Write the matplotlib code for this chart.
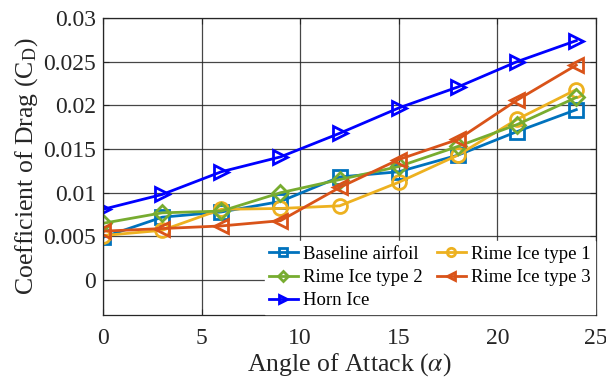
import matplotlib
matplotlib.use('Agg')
import matplotlib.pyplot as plt

plt.rcParams['font.family'] = ['Liberation Serif', 'DejaVu Serif']
plt.rcParams['mathtext.fontset'] = 'stix'

# angle of attack (deg)
aoa = [0, 3, 6, 9, 12, 15, 18, 21, 24]

# drag coefficient for each case
cd_baseline = [0.0049, 0.0072, 0.0078, 0.0090, 0.0118, 0.0124, 0.0143, 0.0170, 0.0195]
cd_rime1 = [0.0051, 0.0057, 0.0081, 0.0082, 0.0085, 0.0112, 0.0143, 0.0184, 0.0218]
cd_rime2 = [0.0065, 0.0077, 0.0079, 0.0100, 0.0115, 0.0130, 0.0153, 0.0178, 0.0209]
cd_rime3 = [0.0056, 0.0059, 0.0062, 0.0068, 0.0106, 0.0138, 0.0161, 0.0206, 0.0246]
cd_horn = [0.0081, 0.0098, 0.0124, 0.0141, 0.0168, 0.0197, 0.0221, 0.0250, 0.0274]

labels = ['Baseline airfoil', 'Rime Ice type 1', 'Rime Ice type 2',
          'Rime Ice type 3', 'Horn Ice']
xticks = [0, 5, 10, 15, 20, 25]
yticks = [0, 0.005, 0.01, 0.015, 0.02, 0.025, 0.03]
yticklabels = ['0', '0.005', '0.01', '0.015', '0.02', '0.025', '0.03']

fig = plt.figure(figsize=(6.06, 3.81), dpi=100)
ax = fig.add_axes([0.170, 0.173, 0.8135, 0.780])

style = dict(lw=2.0, ms=10, mew=2.0, mfc='none')
h1, = ax.plot(aoa, cd_baseline, 's-', color='#0072BD', label=labels[0], **style)
h2, = ax.plot(aoa, cd_rime1, 'o-', color='#EDB120', label=labels[1], **style)
h3, = ax.plot(aoa, cd_rime2, 'D-', color='#77AC30', label=labels[2], lw=2.0, ms=8.5, mew=2.0, mfc='none')
h4, = ax.plot(aoa, cd_rime3, '<-', color='#D95319', label=labels[3], **style)
h5, = ax.plot(aoa, cd_horn, '>-', color='#0000FF', label=labels[4], **style)

ax.set_xlim(0, 25)
ax.set_ylim(-0.004, 0.03)
ax.set_xticks(xticks)
ax.set_yticks(yticks)
ax.set_yticklabels(yticklabels)
ax.tick_params(direction='in', labelsize=17, length=4, width=0.8, top=True, right=True,
               colors='#262626')
ax.tick_params(axis='x', pad=9)
ax.tick_params(axis='y', pad=5)
ax.grid(True, color='#262626', lw=0.9, alpha=0.85)
ax.set_axisbelow(True)
for s in ax.spines.values():
    s.set_color('#262626')
    s.set_linewidth(0.9)

ax.set_xlabel(r'Angle of Attack ($\alpha$)', fontsize=18.5, color='#262626', labelpad=2)
ax.set_ylabel(r'Coefficient of Drag (C$_\mathregular{D}$)', fontsize=18.5, color='#262626',
              labelpad=2)

# column-wise order so rows read baseline / rime 1, rime 2 / rime 3, horn
leg = ax.legend([h1, h3, h5, h2, h4], [labels[0], labels[2], labels[4], labels[1], labels[3]],
                ncol=2, loc='lower right', bbox_to_anchor=(1.0, 0.0), fontsize=13.5,
                frameon=True, fancybox=False, framealpha=1, edgecolor='white',
                markerscale=0.6, handlelength=1.5, handletextpad=0.28, columnspacing=0.8,
                labelspacing=0.33, borderpad=0.25, borderaxespad=0.05)
leg.set_bbox_to_anchor((1.0, 0.0), transform=ax.transAxes)

fig.savefig('out.png', dpi=100)
